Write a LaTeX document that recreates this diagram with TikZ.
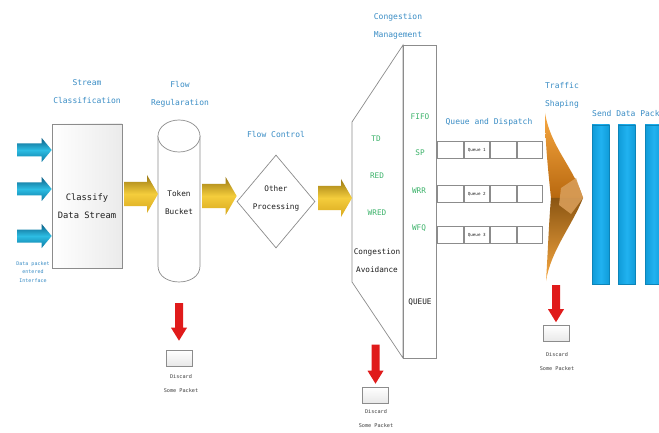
\documentclass[tikz,border=0pt]{standalone}
\usepackage{fontspec}
\newfontfamily\monofam{DejaVu Sans Mono}
\usetikzlibrary{calc,shapes.geometric,shadows}

\definecolor{titleblue}{HTML}{3A8DC5}
\definecolor{labelgreen}{HTML}{3DB36B}
\definecolor{edgegray}{HTML}{8C8C8C}
\definecolor{ink}{HTML}{1E1E1E}
\definecolor{discardred}{HTML}{E01B1B}
\definecolor{tealdark}{HTML}{0B5F86}
\definecolor{tealmid}{HTML}{2DBDE3}
\definecolor{tealbot}{HTML}{0C79A3}
\definecolor{golddark}{HTML}{9A7812}
\definecolor{goldmid}{HTML}{F4CD3C}
\definecolor{goldbot}{HTML}{D8A81E}
\definecolor{orlight}{HTML}{F7A841}
\definecolor{ordark}{HTML}{B8680F}
\definecolor{orbrown}{HTML}{8A5512}
\definecolor{ortip}{HTML}{D89D58}
\definecolor{barblue}{HTML}{0F9BD8}
\definecolor{barlight}{HTML}{20B2F0}

% horizontal block arrow: style, start, end, half body, half head, head length
\newcommand{\hblock}[6]{\path[#1] let \p1=#2, \p2=#3 in
  (\x1,\y1+#4) -- (\x2-#6,\y1+#4) -- (\x2-#6,\y1+#5) -- (\x2,\y1)
  -- (\x2-#6,\y1-#5) -- (\x2-#6,\y1-#4) -- (\x1,\y1-#4) -- cycle;}
% downward block arrow: style, start, end, half body, half head, head length
\newcommand{\vblock}[6]{\path[#1] let \p1=#2, \p2=#3 in
  (\x1-#4,\y1) -- (\x1-#4,\y2+#6) -- (\x1-#5,\y2+#6) -- (\x1,\y2)
  -- (\x1+#5,\y2+#6) -- (\x1+#4,\y2+#6) -- (\x1+#4,\y1) -- cycle;}

\tikzset{
  txt/.style={font=\monofam\fontsize{7.7}{18}\selectfont, text=ink, align=center, inner sep=0pt},
  title/.style={txt, font=\monofam\fontsize{8}{18}\selectfont, text=titleblue},
  green/.style={txt, text=labelgreen},
  small/.style={font=\monofam\fontsize{5.2}{14}\selectfont, text=ink!85, align=center, inner sep=0pt},
  tinyblue/.style={font=\monofam\fontsize{5}{8.5}\selectfont, text=titleblue, align=center, inner sep=0pt},
  graybox/.style={draw=edgegray, line width=0.6pt, top color=white, bottom color=black!9, inner sep=0pt},
  cell/.style={draw=black!45, line width=0.6pt, fill=white, minimum width=25.5pt, minimum height=17pt, inner sep=0pt,
    drop shadow={shadow xshift=0.6pt, shadow yshift=-0.6pt, opacity=0.25}},
  discardbox/.style={graybox, minimum width=26pt, minimum height=16pt},
  bluearrow/.style={top color=tealdark, bottom color=tealbot, middle color=tealmid},
  goldarrow/.style={top color=golddark, bottom color=goldbot, middle color=goldmid},
  redarrow/.style={fill=discardred},
  bar/.style={draw=barblue!85!black, line width=0.4pt, left color=barblue, right color=barblue, middle color=barlight},
}

\begin{document}
\begin{tikzpicture}[x=1pt,y=-1pt]
\clip (0,0) rectangle (659,433);
\fill[white] (0,0) rectangle (659,433);

% ---------- stream classification ----------
\node[title] (t1) at (87,92) {Stream\\Classification};
\node[graybox, minimum width=70pt, minimum height=144pt, left color=white, right color=black!8] (classify) at (87,196) {};
\node[txt, font=\monofam\fontsize{8.8}{18}\selectfont] (classifytxt) at (87,206) {Classify\\Data Stream};
\foreach \i/\yy in {1/150,2/189,3/236}{
  \coordinate (in\i) at (17,\yy);
  \hblock{bluearrow}{(in\i)}{(classify.west |- in\i)}{6.5pt}{12pt}{10pt}
}
\node[tinyblue] (ingress) at (33,272) {Data packet\\entered\\Interface};

% ---------- flow regulation: token bucket ----------
\node[title] (t2) at (180,94) {Flow\\Regularation};
\coordinate (bucketL) at (158,136);
\coordinate (bucketR) at (200,136);
\coordinate (bucketbot) at (179,282);
\path[draw=edgegray, line width=0.7pt, fill=white]
  (158,136) -- (158,266) .. controls (158,287.3) and (200,287.3) .. (200,266) -- (200,136);
\path[draw=edgegray, line width=0.7pt, fill=white] (179,136) ellipse [x radius=21pt, y radius=16pt];
\node[txt] (buckettxt) at (179,203) {Token\\Bucket};
\coordinate (g1) at (124,194);
\hblock{goldarrow}{(g1)}{(bucketL |- g1)}{12pt}{19pt}{11pt}

\node[discardbox] (disc1) at (179,358) {};
\vblock{redarrow}{($(bucketbot)+(0,21)$)}{($(disc1.north)+(0,-9)$)}{4pt}{8pt}{13pt}
\node[small] (disc1txt) at (181,384) {Discard\\Some Packet};

% ---------- flow control ----------
\node[title] (t3) at (276,134) {Flow Control};
\node[diamond, draw=edgegray, line width=0.7pt, fill=white, minimum width=78pt, minimum height=93pt, inner sep=0pt] (proc) at (276,201.5) {};
\node[txt] (proctxt) at (276,198.5) {Other\\Processing};
\coordinate (g2) at (202,196);
\hblock{goldarrow}{(g2)}{(proc.west |- g2)}{12pt}{19pt}{11pt}

% ---------- congestion avoidance / management ----------
\node[title] (t4) at (398,26) {Congestion\\Management};
\coordinate (cavA) at (352,122);
\coordinate (cavB) at (403,45);
\coordinate (cavC) at (403,358);
\coordinate (cavD) at (352,282);
\path[draw=edgegray, line width=0.7pt, fill=white] (cavA) -- (cavB) -- (cavC) -- (cavD) -- cycle;
\path[draw=edgegray, line width=0.7pt, fill=white] (cavB) rectangle (436,358);
\coordinate (g3) at (318,198);
\hblock{goldarrow}{(g3)}{($(cavA)!0.5!(cavD)$ |- g3)}{12pt}{19pt}{11pt}

\node[green] (td) at (376,139) {TD};
\node[green] (red) at (377,176) {RED};
\node[green] (wred) at (377,213) {WRED};
\node[txt] (cavtxt) at (377,261) {Congestion\\Avoidance};
\node[green] (fifo) at (420,117) {FIFO};
\node[green] (sp) at (420,153) {SP};
\node[green] (wrr) at (419,191) {WRR};
\node[green] (wfq) at (419,228) {WFQ};
\node[txt] (queue) at (420,302) {QUEUE};

\node[discardbox] (disc2) at (375.5,395) {};
\vblock{redarrow}{($(disc2.north)+(0,-42)$)}{($(disc2.north)+(0,-3)$)}{4pt}{8pt}{13pt}
\node[small] (disc2txt) at (376,419) {Discard\\Some Packet};

% ---------- queue and dispatch ----------
\node[title] (t5) at (489,122) {Queue and Dispatch};
\foreach \r/\yy in {1/150,2/194,3/235}{
  \foreach \c in {0,1,2,3}{
    \node[cell] (q\r c\c) at (450.25+26.5*\c,\yy) {};
  }
  \node[font=\monofam\fontsize{4.2}{5}\selectfont, text=ink, inner sep=0pt] (ql\r) at (q\r c1) {Queue \r};
}

% ---------- traffic shaping ----------
\node[title] (t6) at (562,95) {Traffic\\Shaping};
\coordinate (shTop) at (545,113);
\coordinate (shTip) at (583,198);
\coordinate (shBot) at (546,281);
\coordinate (shNotch) at (551,198);
% upper band
\path[top color=orlight, bottom color=ordark]
  (shTop) .. controls (551,148) and (573,166) .. (shTip) -- (shNotch)
  .. controls (548,170) and (545,140) .. (shTop) -- cycle;
% lower band
\path[top color=orbrown, bottom color=orlight]
  (shNotch) -- (shTip) .. controls (572,226) and (551,250) .. (shBot)
  .. controls (548,250) and (549,220) .. (shNotch) -- cycle;
% lighter overlap at the tip
\path[fill=ortip, opacity=0.9]
  (561,188) -- (576,178) -- (shTip) -- (571,214) -- (559,205) -- cycle;

\node[discardbox] (disc3) at (556,333.5) {};
\vblock{redarrow}{($(disc3.north)+(0,-40)$)}{($(disc3.north)+(0,-3)$)}{4pt}{8pt}{13pt}
\node[small] (disc3txt) at (557,362) {Discard\\Some Packet};

% ---------- send data packet ----------
\node[title, anchor=west] (t7) at (592,114) {Send Data Packet};
\foreach \bx [count=\k] in {592,618,645}{
  \path[bar] (\bx,125) rectangle ++(17.5,159) coordinate (bar\k);
}
\end{tikzpicture}
\end{document}
